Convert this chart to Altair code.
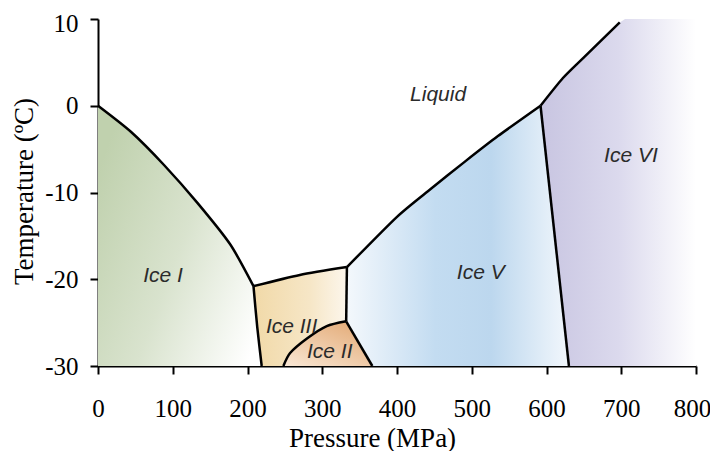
import altair as alt
import pandas as pd

# ---- phase boundaries (pressure MPa, temperature °C) ----
I_L_p = [0, 44, 88, 133, 177, 208]
I_L_t = [0, -3.0, -6.8, -11.2, -16.0, -20.8]
I_III_p = [208, 213, 219]
I_III_t = [-20.8, -25.5, -30]
III_L_p = [208, 270, 333]
III_L_t = [-20.8, -19.5, -18.6]
III_V_p = [333, 332]
III_V_t = [-18.6, -24.85]
II_III_p = [332, 306, 280, 257, 248]
II_III_t = [-24.85, -25.4, -26.8, -28.5, -30]
II_V_p = [332, 367]
II_V_t = [-24.85, -30]
V_L_p = [333, 400, 445, 490, 535, 592]
V_L_t = [-18.6, -12.8, -9.6, -6.5, -3.5, 0]
V_VI_p = [592, 630]
V_VI_t = [0, -30]
VI_L_p = [592, 622, 649, 698]
VI_L_t = [0, 3.2, 5.5, 9.6]

# ---- region labels ----
lab_text = ["Liquid", "Ice VI", "Ice V", "Ice I", "Ice III", "Ice II"]
lab_p = [455, 713, 512, 87, 259, 310]
lab_t = [1.25, -5.8, -19.3, -19.6, -25.5, -28.4]

X_TICKS = [0, 100, 200, 300, 400, 500, 600, 700, 800]
Y_TICKS = [-30, -20, -10, 0, 10]


def pts(ps, ts):
    return list(zip(ps, ts))


def rev(lst):
    return list(reversed(lst))


I_L = pts(I_L_p, I_L_t)
I_III = pts(I_III_p, I_III_t)
III_L = pts(III_L_p, III_L_t)
III_V = pts(III_V_p, III_V_t)
II_III = pts(II_III_p, II_III_t)
II_V = pts(II_V_p, II_V_t)
V_L = pts(V_L_p, V_L_t)
V_VI = pts(V_VI_p, V_VI_t)
VI_L = pts(VI_L_p, VI_L_t)

regions = {
    "Ice I": I_L + I_III[1:] + [(0, -30)],
    "Ice III": III_L + III_V[1:] + II_III[1:] + rev(I_III),
    "Ice II": II_V + rev(II_III),
    "Ice V": V_L + V_VI[1:] + rev(II_V) + rev(III_V)[1:],
    "Ice VI": VI_L + [(705, 10), (800, 10), (800, -30)] + rev(V_VI),
}


def grad(stops, x1=0, y1=0, x2=1, y2=0):
    return alt.Gradient(
        gradient="linear",
        stops=[alt.GradientStop(color=c, offset=o) for o, c in stops],
        x1=x1, y1=y1, x2=x2, y2=y2,
    )


fills = {
    "Ice I": grad([(0, "#c0d1ae"), (0.5, "#d9e3ce"), (1, "#ffffff")], 0, 0.25, 1, 0.85),
    "Ice III": grad([(0, "#f1d9a8"), (0.6, "#f6e6c6"), (1, "#fcf6ec")]),
    "Ice II": grad([(0, "#e5b07f"), (1, "#f9e6d3")], 0.75, 0.1, 0.05, 1),
    "Ice V": grad([(0, "#f4f8fc"), (0.4, "#c3dcf1"), (0.65, "#bcd7ee"), (1, "#f2f7fc")]),
    "Ice VI": grad([(0, "#c8c5e1"), (0.5, "#dbd9ed"), (1, "#ffffff")]),
}

x_axis = alt.Axis(
    values=X_TICKS, grid=False, domainColor="black", domainWidth=2,
    tickColor="black", tickWidth=2, tickSize=8,
    labelFont="Liberation Serif", labelFontSize=25, labelColor="black",
    labelPadding=22, labelFlush=False, labelExpr="'' + datum.value",
    labelOffset={"condition": {"test": "datum.value === 800", "value": -4}, "value": 0},
    titleFont="Liberation Serif", titleFontSize=27, titleFontWeight="normal",
    titleColor="black", titleX=274, titleY=80, titleBaseline="alphabetic",
    titleAlign="center",
)
y_axis = alt.Axis(
    values=Y_TICKS, grid=False, domainColor="black", domainWidth=2,
    tickColor="black", tickWidth=2, tickSize=8,
    labelFont="Liberation Serif", labelFontSize=25, labelColor="black",
    labelPadding=12, labelFlush=False, labelExpr="'' + datum.value",
    labelOffset={"condition": {"test": "datum.value === 10", "value": 4}, "value": 0},
    titleFont="Liberation Serif", titleFontSize=27, titleFontWeight="normal",
    titleColor="black", titleX=-66, titleY=172, titleBaseline="alphabetic",
    titleAlign="center", titleAngle=270,
)

xs = alt.Scale(domain=[0, 800], nice=False)
ys = alt.Scale(domain=[-30, 10], nice=False)


def xe():
    return alt.X("p:Q", scale=xs, axis=x_axis, title="Pressure (MPa)")


def ye():
    return alt.Y("t:Q", scale=ys, axis=y_axis, title="Temperature (ºC)")


layers = []
for name, poly in regions.items():
    df = pd.DataFrame([{"i": k, "p": p, "t": t} for k, (p, t) in enumerate(poly)])
    layers.append(
        alt.Chart(df).mark_line(fill=fills[name], strokeWidth=0, strokeOpacity=0)
        .encode(x=xe(), y=ye(), order=alt.Order("i:Q"))
    )

segs = {
    "I_L": I_L, "I_III": I_III, "III_L": III_L, "III_V": III_V,
    "II_III": II_III, "II_V": II_V, "V_L": V_L, "V_VI": V_VI, "VI_L": VI_L,
}
seg_rows = []
for name, s in segs.items():
    for k, (p, t) in enumerate(s):
        seg_rows.append({"seg": name, "i": k, "p": p, "t": t})
seg_df = pd.DataFrame(seg_rows)

lines = alt.Chart(seg_df).mark_line(
    color="black", strokeWidth=2.5, interpolate="cardinal", tension=0.3
).encode(x=xe(), y=ye(), detail="seg:N", order=alt.Order("i:Q"))

lab_df = pd.DataFrame({"label": lab_text, "p": lab_p, "t": lab_t})
labels = alt.Chart(lab_df).mark_text(
    font="Liberation Sans", fontStyle="italic", fontSize=21, color="#2b2b2b",
    align="center", baseline="middle",
).encode(x=xe(), y=ye(), text="label:N")

chart = alt.layer(*layers, lines, labels).properties(
    width=598, height=347,
    autosize="none",
    padding={"left": 90, "top": 11, "right": 14, "bottom": 85},
    background="white",
).configure_view(strokeWidth=0)

chart.save("out.html", embed_options={"renderer": "svg", "actions": False})
